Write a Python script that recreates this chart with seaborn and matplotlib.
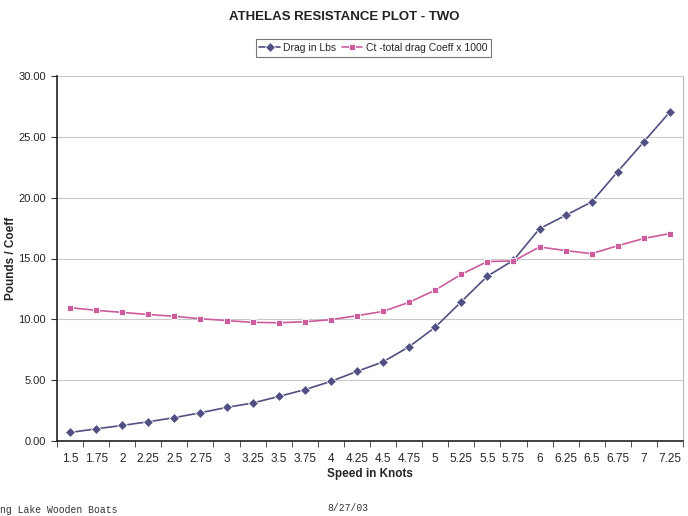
import seaborn as sns
import matplotlib.pyplot as plt
import pandas as pd
from matplotlib.ticker import FixedLocator

speeds = ["1.5", "1.75", "2", "2.25", "2.5", "2.75", "3", "3.25", "3.5", "3.75",
          "4", "4.25", "4.5", "4.75", "5", "5.25", "5.5", "5.75", "6", "6.25",
          "6.5", "6.75", "7", "7.25"]
drag_lbs = [0.7, 1.0, 1.28, 1.58, 1.92, 2.32, 2.76, 3.12, 3.66, 4.22,
            4.9, 5.72, 6.5, 7.75, 9.35, 11.45, 13.55, 14.85, 17.45, 18.55,
            19.65, 22.15, 24.6, 27.05]
ct_coeff = [10.96, 10.74, 10.57, 10.4, 10.25, 10.05, 9.9, 9.75, 9.72, 9.8,
            9.97, 10.3, 10.65, 11.4, 12.4, 13.7, 14.75, 14.8, 15.95, 15.65,
            15.4, 16.05, 16.65, 17.05]
y_ticks = [0, 5, 10, 15, 20, 25, 30]

df = pd.DataFrame({"speed": speeds * 2,
                   "value": drag_lbs + ct_coeff,
                   "series": ["Drag in Lbs"] * len(speeds) + ["Ct -total drag Coeff x 1000"] * len(speeds)})

sns.set_style("white")
plt.rcParams["font.family"] = ["Liberation Sans", "DejaVu Sans"]

fig = plt.figure(figsize=(6.88, 5.16), dpi=100)
ax = fig.add_axes([57 / 688, 1 - 441 / 516, (683 - 57) / 688, (441 - 76) / 516])

colors = {"Drag in Lbs": "#4f4f82", "Ct -total drag Coeff x 1000": "#cc5c9c"}
sns.lineplot(data=df, x="speed", y="value", hue="series", style="series",
             markers={"Drag in Lbs": "D", "Ct -total drag Coeff x 1000": "s"},
             dashes=False, palette=colors, markersize=5, linewidth=1.2,
             markeredgewidth=0.6, sort=False, ax=ax)

# Excel style category axis
n = len(speeds)
ax.set_xlim(-0.5, n - 0.5)
ax.set_xticks(range(n))
ax.set_xticklabels(speeds, fontsize=8.5)
ax.xaxis.set_minor_locator(FixedLocator([i - 0.5 for i in range(n + 1)]))
ax.tick_params(axis="x", which="major", length=0, pad=9)
ax.tick_params(axis="x", which="minor", length=4, direction="out", color="#333333", bottom=True)

ax.set_ylim(0, 30)
ax.set_yticks(y_ticks)
ax.set_yticklabels([f"{v:.2f}" for v in y_ticks], fontsize=8)
ax.tick_params(axis="y", length=4, direction="out", color="#333333", left=True, pad=4)
ax.grid(axis="y", color="#c8c8c8", linewidth=0.8)

for side in ["left", "bottom"]:
    ax.spines[side].set_color("#222222")
    ax.spines[side].set_linewidth(1.2)
ax.spines["right"].set_color("#bbbbbb")
ax.spines["top"].set_visible(False)

ax.set_xlabel("Speed in Knots", fontsize=8.5, fontweight="bold", labelpad=2)
ax.set_ylabel("Pounds / Coeff", fontsize=8.5, fontweight="bold")
ax.yaxis.set_label_coords(-40 / 626, 0.5)

leg = ax.legend(loc="upper center", bbox_to_anchor=(0.505, 1.115), ncol=2, fontsize=7.5,
                frameon=True, fancybox=False, edgecolor="#555555", handlelength=2.0,
                columnspacing=0.5, handletextpad=0.3, borderpad=0.35)
leg.get_frame().set_linewidth(0.8)

fig.text(0.5, 1 - 17 / 516, "ATHELAS RESISTANCE PLOT - TWO", ha="center", va="center",
         fontsize=9.5, fontweight="bold", color="#222222")
fig.text(0.0, 1 - 510 / 516, "ng Lake Wooden Boats", ha="left", va="center",
         fontsize=7, family="Liberation Mono", color="#333333")
fig.text(327 / 688, 1 - 508 / 516, "8/27/03", ha="left", va="center",
         fontsize=7, family="Liberation Mono", color="#333333")

fig.savefig("out.png", dpi=100)
